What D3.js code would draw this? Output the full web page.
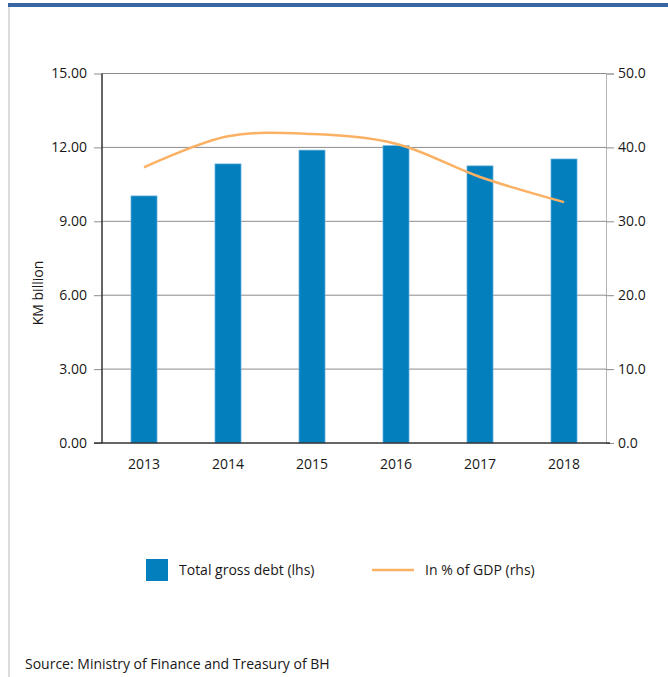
<!DOCTYPE html>
<html>
<head>
<meta charset="utf-8">
<script src="https://cdn.jsdelivr.net/npm/d3@7"></script>
<style>
  html, body { margin: 0; padding: 0; background: #fff; }
  svg text { font-family: "Open Sans", "Noto Sans", sans-serif; fill: #1a1718; }
</style>
</head>
<body>
<div id="chart"></div>
<script>
// Bosnia and Herzegovina public debt, 2013-2018
const years = ['2013', '2014', '2015', '2016', '2017', '2018'];
const debtKM = [10.03, 11.33, 11.89, 12.07, 11.25, 11.53];   // KM billion, left axis
const debtPctGDP = [37.3, 41.5, 41.8, 40.5, 36.0, 32.6];     // % of GDP, right axis
const leftTicks = [0, 3, 6, 9, 12, 15];
const rightTicks = [0, 10, 20, 30, 40, 50];

const W = 668, H = 677;
const plot = { left: 102, right: 606, top: 73.5, bottom: 443 };

const svg = d3.select('#chart').append('svg')
    .attr('width', W)
    .attr('height', H);

// page frame: blue rule on top, light edge on the left
svg.append('rect').attr('x', 8).attr('y', 3).attr('width', W - 8).attr('height', 4).attr('fill', '#3b64a2');
svg.append('rect').attr('x', 8).attr('y', 7).attr('width', 2).attr('height', H - 7).attr('fill', '#dcdcdc');

const x = d3.scaleBand().domain(years).range([plot.left, plot.right]).paddingInner(0.69).paddingOuter(0.345);
const yL = d3.scaleLinear().domain([0, 15]).range([plot.bottom, plot.top]);
const yR = d3.scaleLinear().domain([0, 50]).range([plot.bottom, plot.top]);

// gridlines + left ticks
const leftAxis = svg.append('g')
    .attr('transform', `translate(${plot.left},0)`)
    .call(d3.axisLeft(yL).tickValues(leftTicks).tickFormat(d3.format('.2f'))
        .tickSize(8).tickPadding(7));
leftAxis.select('.domain').remove();
leftAxis.selectAll('.tick line').attr('stroke', '#8c8c8c');
leftAxis.selectAll('.tick text').attr('font-size', 14);

svg.append('g').selectAll('line')
    .data(leftTicks.filter(d => d > 0))
    .join('line')
    .attr('x1', plot.left).attr('x2', plot.right)
    .attr('y1', d => yL(d)).attr('y2', d => yL(d))
    .attr('stroke', '#8c8c8c').attr('stroke-width', 1);

const rightAxis = svg.append('g')
    .attr('transform', `translate(${plot.right},0)`)
    .call(d3.axisRight(yR).tickValues(rightTicks).tickFormat(d3.format('.1f'))
        .tickSize(8).tickPadding(4));
rightAxis.select('.domain').attr('stroke', '#b5b5b5');
rightAxis.selectAll('.tick line').attr('stroke', '#8c8c8c');
rightAxis.selectAll('.tick text').attr('font-size', 14);

// bars
svg.append('g').selectAll('rect')
    .data(debtKM)
    .join('rect')
    .attr('x', (d, i) => x(years[i]))
    .attr('y', d => yL(d))
    .attr('width', x.bandwidth())
    .attr('height', d => yL(0) - yL(d))
    .attr('fill', '#047fbd')
    .attr('stroke', '#6bb3dc')
    .attr('stroke-width', 0.7);

// left axis line and baseline drawn over the bars
svg.append('line')
    .attr('x1', plot.left).attr('x2', plot.left)
    .attr('y1', plot.top).attr('y2', plot.bottom)
    .attr('stroke', '#333').attr('stroke-width', 1.5);

const bottomAxis = svg.append('g')
    .attr('transform', `translate(0,${plot.bottom})`)
    .call(d3.axisBottom(x).tickSize(0).tickPadding(16));
bottomAxis.select('.domain').remove();
bottomAxis.selectAll('.tick text').attr('font-size', 14);
svg.append('line')
    .attr('x1', plot.left - 8).attr('x2', plot.right + 4)
    .attr('y1', plot.bottom).attr('y2', plot.bottom)
    .attr('stroke', '#333').attr('stroke-width', 1.5);

// share of GDP, smoothed
const line = d3.line()
    .x((d, i) => x(years[i]) + x.bandwidth() / 2)
    .y(d => yR(d))
    .curve(d3.curveCatmullRom.alpha(0.5));
svg.append('path')
    .datum(debtPctGDP)
    .attr('d', line)
    .attr('fill', 'none')
    .attr('stroke', '#fbb164')
    .attr('stroke-width', 2.5);

// axis title
svg.append('text')
    .attr('transform', 'translate(43,293) rotate(-90)')
    .attr('text-anchor', 'middle')
    .attr('font-size', 14)
    .text('KM billion');

// legend
const legend = svg.append('g');
legend.append('rect')
    .attr('x', 146).attr('y', 559).attr('width', 22).attr('height', 22)
    .attr('fill', '#047fbd');
legend.append('text')
    .attr('x', 179).attr('y', 575).attr('font-size', 14)
    .text('Total gross debt (lhs)');
legend.append('line')
    .attr('x1', 372).attr('x2', 414).attr('y1', 570).attr('y2', 570)
    .attr('stroke', '#fbb164').attr('stroke-width', 2.5);
legend.append('text')
    .attr('x', 425).attr('y', 575).attr('font-size', 14)
    .text('In % of GDP (rhs)');

svg.append('text')
    .attr('x', 25).attr('y', 669).attr('font-size', 14)
    .text('Source: Ministry of Finance and Treasury of BH');
</script>
</body>
</html>
